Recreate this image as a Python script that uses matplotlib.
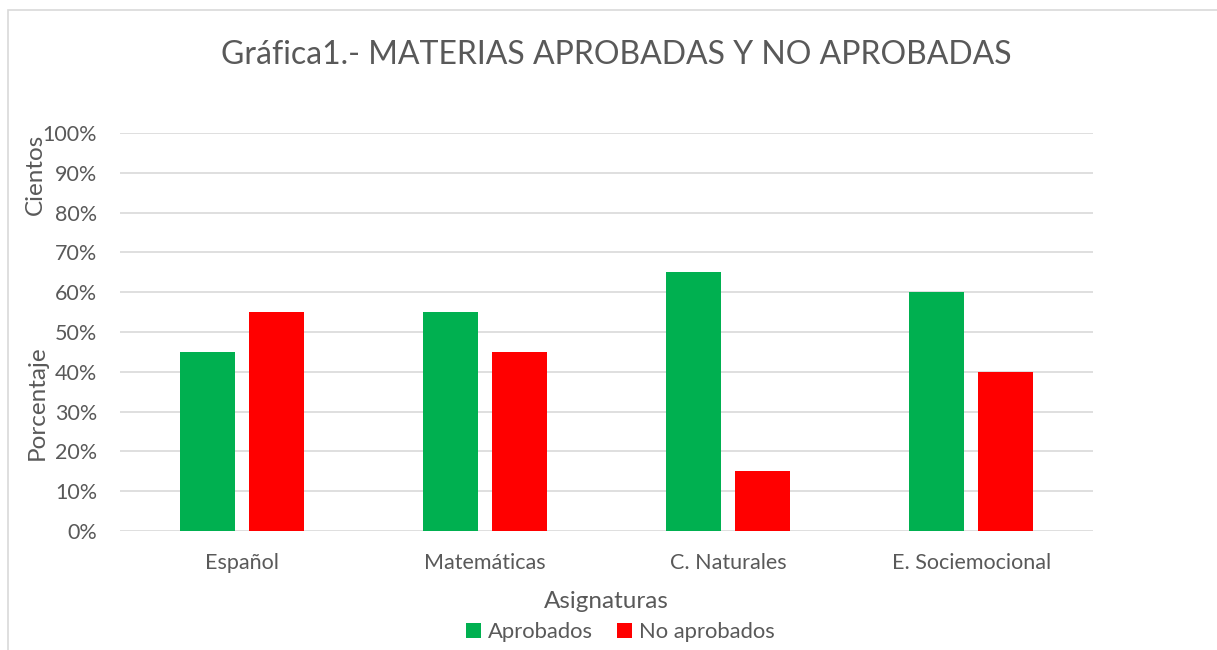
import matplotlib
matplotlib.use("Agg")
import matplotlib.pyplot as plt
import numpy as np
from matplotlib.patches import Rectangle

categories = ["Español", "Matemáticas", "C. Naturales", "E. Sociemocional"]
aprobados = [0.45, 0.55, 0.65, 0.60]
no_aprobados = [0.55, 0.45, 0.15, 0.40]
series_names = ["Aprobados", "No aprobados"]
yticks = [0, 0.1, 0.2, 0.3, 0.4, 0.5, 0.6, 0.7, 0.8, 0.9, 1.0]

plt.rcParams['font.family'] = ['Lato', 'DejaVu Sans']
gray = '#595959'
W, H = 1217, 650
fig = plt.figure(figsize=(W/100, H/100), dpi=100)

# outer chart border
fig.patches.append(Rectangle((8/W, -0.01), 1.2, 1 - 10/H + 0.01, transform=fig.transFigure,
                             fill=False, edgecolor='#d9d9d9', linewidth=1.2))

ax = fig.add_axes([120/W, (H-531)/H, (1093-120)/W, (531-133)/H])
x = np.arange(len(categories))
bw = 0.226
off = 0.142
ax.bar(x - off, aprobados, bw, color='#00b050', label=series_names[0], zorder=3)
ax.bar(x + off, no_aprobados, bw, color='#ff0000', label=series_names[1], zorder=3)

ax.set_xlim(-0.5, len(categories) - 0.5)
ax.set_ylim(0, 1.0)
ax.set_yticks(yticks)
ax.set_yticklabels([f"{int(round(v*100))}%" for v in yticks])
ax.set_xticks(x)
ax.set_xticklabels(categories)
ax.tick_params(axis='both', length=0, labelsize=15.5, colors=gray)
ax.tick_params(axis='y', pad=16.5)
ax.tick_params(axis='x', pad=16)
ax.grid(axis='y', color='#d9d9d9', linewidth=1.2, zorder=0)
for s in ax.spines.values():
    s.set_visible(False)

fig.text(616/W, 1 - 55/H, "Gráfica1.- MATERIAS APROBADAS Y NO APROBADAS",
         ha='center', va='center', fontsize=23, color=gray)
fig.text(37/W, 1 - 403/H, "Porcentaje", rotation=90, ha='center', va='center',
         fontsize=17.5, color=gray)
fig.text(35/W, 1 - 174/H, "Cientos", rotation=90, ha='center', va='center',
         fontsize=17.5, color=gray)
fig.text(606/W, 1 - 601/H, "Asignaturas", ha='center', va='center',
         fontsize=17.5, color=gray)

leg = fig.legend(loc='center', bbox_to_anchor=(620/W, 1 - 632/H), ncol=2, frameon=False,
                 fontsize=15.8, handlelength=0.7, handleheight=0.7, handletextpad=0.3,
                 columnspacing=1.1, labelcolor=gray)

fig.savefig("out.png", dpi=100)
